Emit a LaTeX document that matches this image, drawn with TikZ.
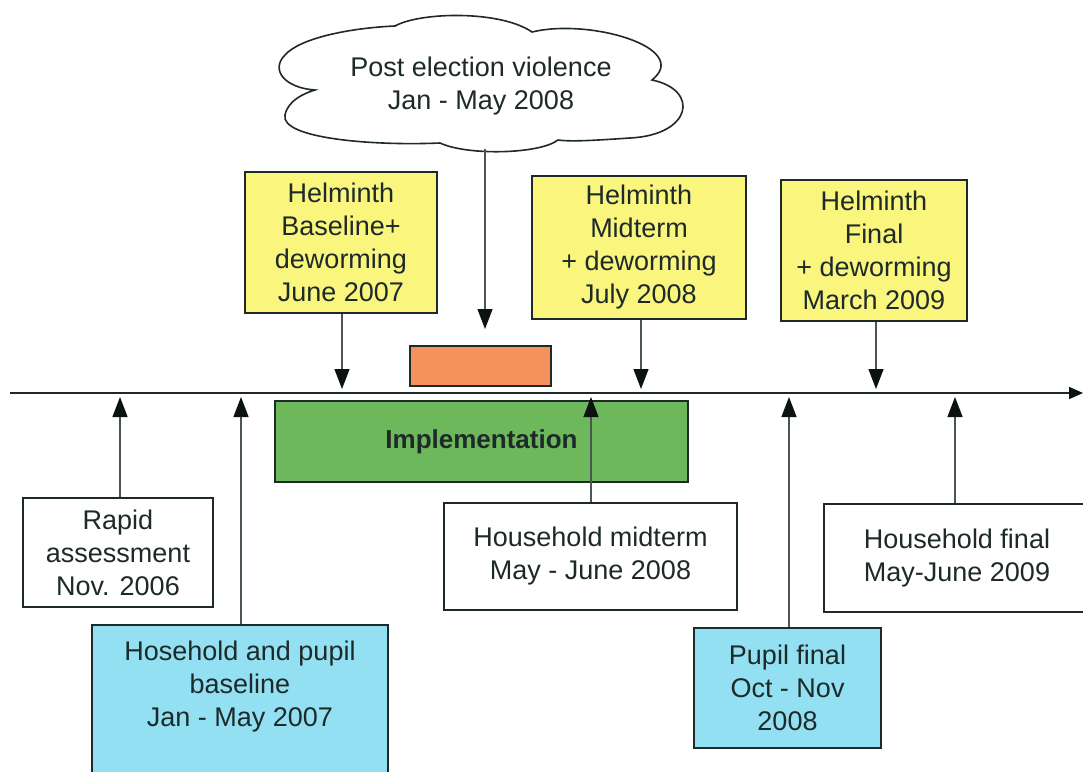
\documentclass[tikz,border=0pt]{standalone}
\usepackage{fontspec}
\setmainfont{Liberation Sans}
\usetikzlibrary{arrows.meta}
\definecolor{helyellow}{HTML}{FAF57C}
\definecolor{surveycyan}{HTML}{92E0F2}
\definecolor{implgreen}{HTML}{6DB85A}
\definecolor{violorange}{HTML}{F5915C}
\definecolor{inkline}{HTML}{1E2A2A}
\definecolor{tipink}{HTML}{0A1212}
\tikzset{
  box/.style={draw=inkline, line width=1.8pt, align=center, inner sep=0pt,
    font=\fontsize{27}{33}\selectfont, text=inkline},
  helbox/.style={box, fill=helyellow},
  survbox/.style={box, fill=surveycyan},
  plainbox/.style={box, fill=white},
  link/.style={draw=inkline!80, line width=1.3pt,
    -{Triangle[length=20pt,width=15pt,color=tipink]}},
}
\begin{document}
\begin{tikzpicture}[x=1pt,y=-1pt]
\clip (0,0) rectangle (1083,771);
\fill[white] (0,0) rectangle (1083,771);

% time axis
\coordinate (axisL) at (10,393);
\coordinate (axisR) at (1083,393);
\draw[inkline, line width=1.5pt, -{Triangle[length=14pt,width=12pt,color=tipink]}] (axisL) -- (axisR);

% cloud outline for the violence period
\draw[inkline, line width=1.6pt, fill=white, line join=miter]
  (315,90) .. controls (285,88) and (270,70) .. (285,55)
           .. controls (300,38) and (350,28) .. (395,26)
           .. controls (420,12) and (500,10) .. (532,32)
           .. controls (590,18) and (692,48) .. (652,80)
           .. controls (700,90) and (692,135) .. (630,138)
           .. controls (600,140) and (572,142) .. (558,140)
           .. controls (540,154) and (468,156) .. (440,143)
           .. controls (370,146) and (280,138) .. (285,115)
           .. controls (288,100) and (305,93) .. (315,90) -- cycle;
\node[align=center, inner sep=0pt, font=\fontsize{27}{33}\selectfont, text=inkline]
  (pev) at (481,86) {Post election violence\\Jan - May 2008};
\coordinate (pevB) at (485,149);
\node[draw=inkline, line width=1.5pt, fill=violorange, minimum width=141pt, minimum height=40pt] (viol) at (480.5,366) {};
\coordinate (pevT) at (485,329);
\draw[link] (pevB) -- (pevT);

% helminth surveys
\node[helbox, minimum width=192pt, minimum height=141pt] (hb) at (341,242.5) {Helminth\\Baseline+\\deworming\\June 2007};
\node[helbox, minimum width=214pt, minimum height=143pt] (hm) at (639,247.5) {Helminth\\Midterm\\+ deworming\\July 2008};
\node[helbox, minimum width=186pt, minimum height=141pt] (hf) at (874,250.5) {Helminth\\Final\\+ deworming\\March 2009};
\coordinate (hbT) at (342,389);
\coordinate (hmT) at (641,389);
\coordinate (hfT) at (876,389);
\draw[link] (hb.south -| hbT) -- (hbT);
\draw[link] (hm.south -| hmT) -- (hmT);
\draw[link] (hf.south -| hfT) -- (hfT);

% implementation period
\node[draw=inkline, line width=1.8pt, fill=implgreen, minimum width=413pt, minimum height=81pt,
  font=\bfseries\fontsize{26}{32}\selectfont, text=inkline] (impl) at (481.5,441.5) {Implementation};

% surveys below the axis
\node[plainbox, minimum width=190pt, minimum height=109pt] (rapid) at (118,552.5) {Rapid\\assessment\\Nov. 2006};
\node[survbox, minimum width=296pt, minimum height=170pt] (hpb) at (240,710) {};
\node[font=\fontsize{27}{33}\selectfont, text=inkline, align=center] (hpbT) at (240,687) {Hosehold and pupil\\baseline\\Jan - May 2007};
\node[plainbox, minimum width=293pt, minimum height=107pt] (hmid) at (590.5,556.5) {Household midterm\\May - June 2008};
\node[survbox, minimum width=187pt, minimum height=120pt] (pf) at (787.5,688) {Pupil final\\Oct - Nov\\2008};
\node[plainbox, minimum width=266pt, minimum height=108pt] (hfin) at (957,558) {Household final\\May-June 2009};

\coordinate (rapidT) at (120,397);
\coordinate (hpbT2) at (241,397);
\coordinate (hmidT) at (591,397);
\coordinate (pfT) at (789,397);
\coordinate (hfinT) at (955,397);
\draw[link] (rapid.north -| rapidT) -- (rapidT);
\draw[link] (hpb.north -| hpbT2) -- (hpbT2);
\draw[link] (hmid.north -| hmidT) -- (hmidT);
\draw[link] (pf.north -| pfT) -- (pfT);
\draw[link] (hfin.north -| hfinT) -- (hfinT);
\end{tikzpicture}
\end{document}
